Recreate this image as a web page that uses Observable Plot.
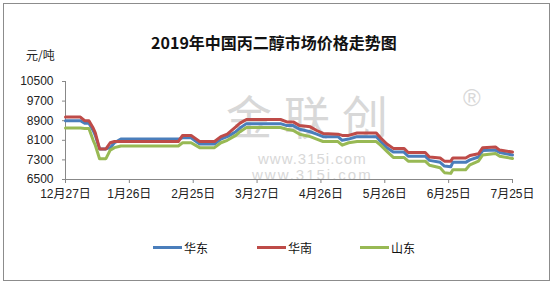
<!DOCTYPE html>
<html><head><meta charset="utf-8">
<script src="https://cdn.jsdelivr.net/npm/d3@7"></script>
<script src="https://cdn.jsdelivr.net/npm/@observablehq/plot@0.6"></script>
<style>
body{margin:0;background:#fff;font-family:"Liberation Sans","Noto Sans CJK SC",sans-serif;}
#wrap{position:relative;width:560px;height:287px;overflow:hidden;background:#fff;}
#frame{position:absolute;left:3px;top:3px;width:547px;height:278px;border:1px solid #8c8c8c;box-sizing:border-box;}
.t{position:absolute;white-space:nowrap;line-height:1;}
#title{left:0;width:548px;top:30px;text-align:center;font:bold 16px "Noto Sans CJK SC",sans-serif;color:#111;}
#unit{left:26px;top:46px;font:12px "Noto Sans CJK SC",sans-serif;color:#222;}
.wm{color:#d8d8d8;font-family:"Noto Sans CJK SC",sans-serif;}
.wl{color:#d8d8d8;font-family:"Liberation Sans",sans-serif;}
#svgbox{position:absolute;left:0;top:0;}
.leg{position:absolute;top:239px;font:12px "Noto Sans CJK SC",sans-serif;color:#111;display:flex;align-items:center;}
.leg i{display:inline-block;width:29px;height:3px;margin-right:2px;}
</style></head>
<body>
<div id="wrap">
  <div class="t wm" style="left:226px;top:91px;font-size:46px;letter-spacing:12px;">金联创</div>
  <div class="t wl" style="left:463px;top:86px;font-size:24px;">®</div>
  <div class="t wl" style="left:258px;top:151px;font-size:15px;letter-spacing:1px;">www.315i.com</div>
  <div class="t wl" style="left:252px;top:167px;font-size:15px;letter-spacing:2px;">www.315i.com</div>
  <div id="svgbox"></div>
  <div id="frame"></div>
  <div class="t" id="title">2019年中国丙二醇市场价格走势图</div>
  <div class="t" id="unit">元/吨</div>
  <div class="leg" style="left:153px"><i style="background:#4a7ebb"></i>华东</div>
  <div class="leg" style="left:257px"><i style="background:#be4b48"></i>华南</div>
  <div class="leg" style="left:360px"><i style="background:#98b954"></i>山东</div>
</div>
<script>
const dates = ["2018-12-27","2019-01-03","2019-01-05","2019-01-07","2019-01-09","2019-01-10","2019-01-12","2019-01-15","2019-01-17","2019-01-19","2019-01-22","2019-02-18","2019-02-20","2019-02-24","2019-02-28","2019-03-07","2019-03-10","2019-03-13","2019-03-17","2019-03-19","2019-03-22","2019-04-07","2019-04-10","2019-04-13","2019-04-16","2019-04-21","2019-04-24","2019-04-27","2019-05-04","2019-05-06","2019-05-09","2019-05-13","2019-05-22","2019-05-24","2019-05-27","2019-05-30","2019-06-04","2019-06-06","2019-06-14","2019-06-16","2019-06-21","2019-06-23","2019-06-26","2019-06-27","2019-07-03","2019-07-05","2019-07-09","2019-07-11","2019-07-17","2019-07-19","2019-07-25"];
const huanan = [9050,9050,8900,8900,8600,8400,7750,7750,8000,8050,8050,8050,8300,8300,8050,8050,8250,8350,8650,8800,8950,8950,8850,8850,8700,8650,8500,8380,8350,8300,8300,8400,8400,8200,7950,7770,7770,7600,7600,7420,7380,7250,7250,7380,7380,7480,7550,7800,7830,7700,7620];
const huadong = [8900,8900,8800,8800,8500,8300,7750,7750,7800,8000,8150,8150,8200,8200,7950,7950,8150,8250,8450,8600,8780,8780,8700,8700,8550,8450,8350,8250,8250,8100,8150,8250,8250,8050,7800,7620,7620,7450,7450,7280,7200,7050,7020,7200,7200,7300,7420,7680,7700,7600,7500];
const shandong = [8600,8600,8580,8580,8100,7900,7350,7350,7700,7800,7870,7870,8000,8000,7800,7800,8000,8100,8300,8450,8620,8620,8550,8500,8350,8250,8150,8050,8050,7900,8000,8050,8050,7900,7650,7400,7400,7250,7250,7080,6980,6780,6750,6900,6900,7100,7250,7500,7560,7450,7360];
const seriesNames = ["华东","华南","山东"];
const seriesColors = ["#4a7ebb","#be4b48","#98b954"];
const yTicks = [6500,7300,8100,8900,9700,10500];
const xTickDates = ["2018-12-27","2019-01-26","2019-02-25","2019-03-27","2019-04-26","2019-05-26","2019-06-25","2019-07-25"];

const seriesValues = [huadong, huanan, shandong];
const rows = [];
seriesNames.forEach((s, k) => dates.forEach((d, i) => rows.push({series: s, date: new Date(d + "T00:00:00Z"), value: seriesValues[k][i]})));
const xt = xTickDates.map(d => new Date(d + "T00:00:00Z"));
const x0 = xt[0], x1 = xt[xt.length - 1];

const chart = Plot.plot({
  width: 560, height: 287,
  marginLeft: 65, marginRight: 48, marginTop: 81, marginBottom: 108,
  style: {fontFamily: '"Liberation Sans","Noto Sans CJK SC",sans-serif', fontSize: "12px", color: "#222", background: "transparent"},
  x: {type: "utc", domain: [x0, x1]},
  y: {domain: [6500, 10500]},
  color: {domain: seriesNames, range: seriesColors},
  marks: [
    Plot.ruleX([x0], {stroke: "#888", strokeWidth: 1}),
    Plot.ruleY([6500], {stroke: "#888", strokeWidth: 1}),
    Plot.axisY({ticks: yTicks, tickSize: 3, tickPadding: 9, label: null, stroke: "#888", fontSize: 12, tickFormat: d => String(d)}),
    Plot.axisX({ticks: xt, tickSize: 4, tickPadding: 6, label: null, stroke: "#888", fontSize: 12, tickFormat: d => (d.getUTCMonth() + 1) + "月" + d.getUTCDate() + "日"}),
    Plot.line(rows, {x: "date", y: "value", z: "series", stroke: "series", strokeWidth: 3, strokeLinejoin: "round"})
  ]
});
document.getElementById("svgbox").appendChild(chart);
</script>
</body></html>
